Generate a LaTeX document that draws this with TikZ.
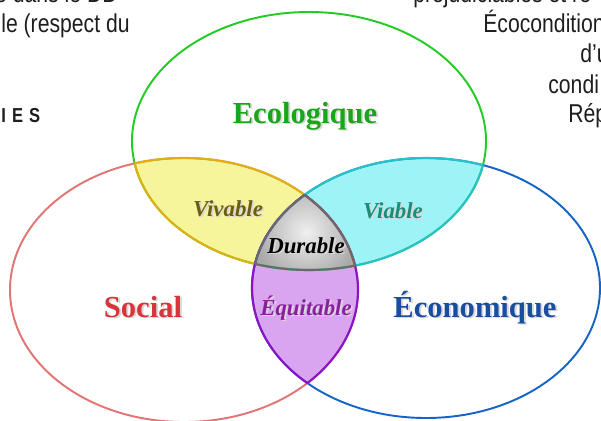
\documentclass[tikz,border=0pt]{standalone}
\usepackage{fontspec}
\setmainfont{Liberation Serif}
\newfontfamily\narrowsans[FakeStretch=0.82]{Liberation Sans}

\definecolor{ecoline}{HTML}{22CC22}
\definecolor{socline}{HTML}{E27474}
\definecolor{econline}{HTML}{1565C8}
\definecolor{vivfill}{HTML}{F6F59C}
\definecolor{vivborder}{HTML}{E0B010}
\definecolor{viafill}{HTML}{9EF3F7}
\definecolor{viaborder}{HTML}{26C2C8}
\definecolor{equfill}{HTML}{D9A5F1}
\definecolor{equborder}{HTML}{8C12C6}
\definecolor{durfill}{HTML}{A9A9A9}
\definecolor{durborder}{HTML}{6A6A6A}
\definecolor{ecotext}{HTML}{1AA61A}
\definecolor{soctext}{HTML}{D8353A}
\definecolor{econtext}{HTML}{1A4D9E}
\definecolor{vivtext}{HTML}{6E5C12}
\definecolor{viatext}{HTML}{1B8C78}
\definecolor{equtext}{HTML}{8A1F9E}
\definecolor{fragtext}{HTML}{1E1E1E}

% the three ellipses
\newcommand\ecoellipse{(309,141) ellipse [x radius=177, y radius=129]}
\newcommand\socellipse{(184,290) ellipse [x radius=174, y radius=132]}
\newcommand\econellipse{(426,288) ellipse [x radius=174, y radius=130]}
% light shadow under the labels
\newcommand\shadowed[1]{\makebox[0pt][l]{\hspace{1.1pt}\raisebox{-1.1pt}{\textcolor{gray!30}{#1}}}#1}

\begin{document}
\begin{tikzpicture}[x=0.02cm,y=-0.02cm,
  main label/.style={anchor=base,inner sep=0pt,font=\fontsize{17.4}{20}\selectfont\bfseries},
  zone label/.style={anchor=base,inner sep=0pt,font=\fontsize{13}{15}\selectfont\bfseries\itshape},
  fragment/.style={anchor=base west,inner sep=0pt,text=fragtext,font=\fontsize{14.7}{17}\selectfont\narrowsans},
  ring/.style={line width=1.1pt},
  zone border/.style={line width=1.2pt}]

\useasboundingbox (0,0) rectangle (601,420);
\fill[white] (0,0) rectangle (601,420);
\clip (0,0) rectangle (601,420);

% ZONES
% vivable
\begin{scope}
\clip \ecoellipse;
\fill[vivfill] \socellipse;
\end{scope}
% viable
\begin{scope}
\clip \ecoellipse;
\fill[viafill] \econellipse;
\end{scope}
% equitable
\begin{scope}
\clip \socellipse;
\fill[equfill] \econellipse;
\end{scope}
% durable
\begin{scope}
\clip \ecoellipse;
\clip \socellipse;
\clip \econellipse;
\fill[durfill] (200,150) rectangle (420,300);
\shade[inner color=gray!12, outer color=durfill] (306,232) circle [radius=52];
\end{scope}

% ELLIPSES
\draw[ring,ecoline] \ecoellipse;
\draw[ring,socline] \socellipse;
\draw[ring,econline] \econellipse;

% ZONE BORDERS
\begin{scope}
\clip \ecoellipse;
\draw[zone border,vivborder] \socellipse;
\end{scope}
\begin{scope}
\clip \socellipse;
\draw[zone border,vivborder] \ecoellipse;
\end{scope}
\begin{scope}
\clip \ecoellipse;
\draw[zone border,viaborder] \econellipse;
\end{scope}
\begin{scope}
\clip \econellipse;
\draw[zone border,viaborder] \ecoellipse;
\end{scope}
\begin{scope}
\clip \socellipse;
\draw[zone border,equborder] \econellipse;
\end{scope}
\begin{scope}
\clip \econellipse;
\draw[zone border,equborder] \socellipse;
\end{scope}
% durable border
\begin{scope}
\clip \ecoellipse;
\clip \socellipse;
\draw[zone border,durborder] \econellipse;
\end{scope}
\begin{scope}
\clip \ecoellipse;
\clip \econellipse;
\draw[zone border,durborder] \socellipse;
\end{scope}
\begin{scope}
\clip \socellipse;
\clip \econellipse;
\draw[zone border,durborder] \ecoellipse;
\end{scope}

% LABELS
\node[main label,text=ecotext] (ecologique) at (305,123) {\shadowed{Ecologique}};
\node[main label,text=soctext] (social) at (143,317) {\shadowed{Social}};
\node[main label,text=econtext] (economique) at (475,317) {\shadowed{Économique}};
\node[zone label,text=vivtext] (vivable) at (228,216) {\shadowed{Vivable}};
\node[zone label,text=viatext] (viable) at (393,218) {\shadowed{Viable}};
\node[zone label,text=black] (durable) at (306,253) {\shadowed{Durable}};
\node[zone label,text=equtext] (equitable) at (306,315) {\shadowed{Équitable}};

% CUT TEXT AROUND
\node[fragment,anchor=base east] (leftone) at (118,2) {e dans le DD};
\node[fragment,anchor=base east] (lefttwo) at (130,32) {le (respect du};
\node[fragment,font=\fontsize{11.5}{13}\selectfont\narrowsans\bfseries\addfontfeature{LetterSpace=30}] (leftthree) at (1,122) {IES};
\node[fragment] (rightone) at (413,2) {préjudiciables et ré};
\node[fragment] (righttwo) at (483,32) {Écoconditions};
\node[fragment] (rightthree) at (580,62) {d’u};
\node[fragment] (rightfour) at (548,93) {condi};
\node[fragment] (rightfive) at (568,122) {Rép};

\end{tikzpicture}
\end{document}
